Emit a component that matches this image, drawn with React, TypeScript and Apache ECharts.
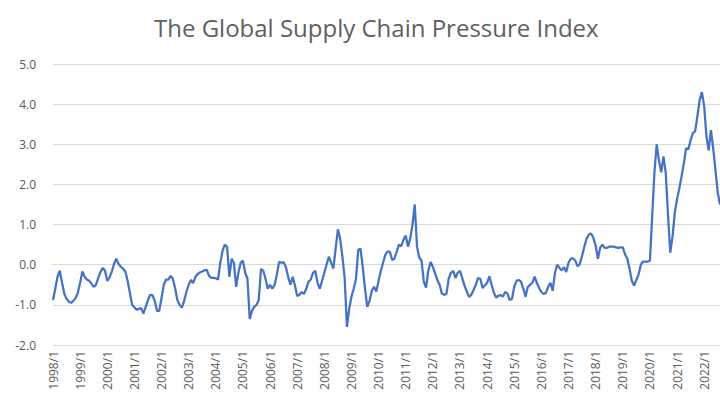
import React, { useEffect, useRef } from "react";
import * as echarts from "echarts";

const startYear = 1998;
const monthCount = 296;
const categories: string[] = Array.from({ length: monthCount }, (_, i) => `${startYear + Math.floor(i / 12)}/${(i % 12) + 1}`);

const values1998_2001: number[] = [
  -0.88, -0.6, -0.3, -0.15, -0.45, -0.72, -0.85, -0.92, -0.95, -0.9, -0.83, -0.7,
  -0.45, -0.17, -0.3, -0.37, -0.4, -0.47, -0.55, -0.5, -0.33, -0.18, -0.08, -0.15,
  -0.4, -0.32, -0.17, 0.02, 0.15, 0.02, -0.05, -0.1, -0.17, -0.4, -0.7, -1.0,
  -1.06, -1.12, -1.1, -1.08, -1.22, -1.05, -0.88, -0.75, -0.76, -0.9, -1.15, -1.15,
];
const values2002_2005: number[] = [
  -0.83, -0.5, -0.37, -0.37, -0.28, -0.35, -0.58, -0.88, -1.0, -1.07, -0.9, -0.68,
  -0.5, -0.38, -0.46, -0.3, -0.23, -0.19, -0.17, -0.14, -0.13, -0.28, -0.33, -0.33,
  -0.34, -0.37, 0.05, 0.35, 0.5, 0.44, -0.3, 0.15, 0.05, -0.55, -0.2, 0.05,
  0.1, -0.2, -0.35, -1.35, -1.15, -1.05, -1.0, -0.88, -0.1, -0.15, -0.35, -0.6,
];
const values2006_2009: number[] = [
  -0.5, -0.6, -0.5, -0.25, 0.07, 0.05, 0.06, -0.06, -0.3, -0.5, -0.3, -0.52,
  -0.78, -0.75, -0.68, -0.73, -0.6, -0.42, -0.37, -0.2, -0.15, -0.45, -0.6, -0.4,
  -0.2, 0.0, 0.2, 0.05, -0.1, 0.4, 0.88, 0.65, 0.2, -0.33, -1.55, -1.1,
  -0.8, -0.6, -0.35, 0.37, 0.4, -0.06, -0.6, -1.05, -0.9, -0.65, -0.55, -0.67,
];
const values2010_2013: number[] = [
  -0.4, -0.15, 0.05, 0.25, 0.33, 0.32, 0.12, 0.15, 0.32, 0.5, 0.46, 0.62,
  0.73, 0.45, 0.65, 1.0, 1.5, 0.45, 0.18, 0.1, -0.42, -0.57, -0.15, 0.07,
  -0.05, -0.22, -0.38, -0.5, -0.72, -0.75, -0.73, -0.35, -0.2, -0.15, -0.33, -0.2,
  -0.15, -0.33, -0.52, -0.66, -0.8, -0.75, -0.63, -0.5, -0.33, -0.35, -0.58, -0.52,
];
const values2014_2017: number[] = [
  -0.45, -0.29, -0.5, -0.7, -0.82, -0.77, -0.76, -0.79, -0.68, -0.72, -0.88, -0.85,
  -0.55, -0.4, -0.38, -0.42, -0.6, -0.8, -0.55, -0.5, -0.45, -0.3, -0.45, -0.58,
  -0.68, -0.73, -0.7, -0.55, -0.45, -0.65, -0.2, 0.0, -0.08, -0.14, -0.06, -0.18,
  0.05, 0.15, 0.16, 0.1, -0.04, 0.02, 0.22, 0.45, 0.65, 0.75, 0.78, 0.67,
];
const values2018_2022: number[] = [
  0.48, 0.15, 0.42, 0.5, 0.42, 0.42, 0.45, 0.45, 0.45, 0.43, 0.42, 0.43,
  0.43, 0.26, 0.15, -0.1, -0.4, -0.52, -0.38, -0.24, 0.0, 0.08, 0.08, 0.08,
  0.1, 1.2, 2.3, 3.0, 2.6, 2.3, 2.7, 2.29, 1.25, 0.3, 0.7, 1.3,
  1.63, 1.9, 2.2, 2.52, 2.9, 2.88, 3.1, 3.28, 3.32, 3.7, 4.1, 4.3,
  3.95, 3.2, 2.85, 3.35, 2.9, 2.35, 1.8, 1.5,
];
const gscpi: number[] = [
  ...values1998_2001, ...values2002_2005, ...values2006_2009,
  ...values2010_2013, ...values2014_2017, ...values2018_2022,
];

const yMin = -2;
const yMax = 5;
const yInterval = 1;
const titleText = "The Global Supply Chain Pressure Index";

export default function App() {
  const ref = useRef<HTMLDivElement>(null);
  useEffect(() => {
    if (!ref.current) return;
    const chart = echarts.init(ref.current, null, { renderer: "svg" });
    chart.setOption({
      animation: false,
      backgroundColor: "#ffffff",
      title: {
        text: titleText,
        left: 149,
        top: 10,
        textStyle: { fontFamily: "Open Sans", fontSize: 24, fontWeight: "normal", color: "#606060" },
      },
      grid: { left: 53, right: 0, top: 64, bottom: 61, containLabel: false },
      xAxis: {
        type: "category",
        data: categories,
        boundaryGap: false,
        axisLine: { show: true, lineStyle: { color: "#d9d9d9", width: 1 } },
        axisTick: { show: false },
        axisLabel: {
          interval: (idx: number) => idx % 12 === 0,
          rotate: 90,
          fontFamily: "Open Sans",
          fontSize: 12,
          color: "#595959",
          margin: 6,
        },
        splitLine: { show: false },
      },
      yAxis: {
        type: "value",
        min: yMin,
        max: yMax,
        interval: yInterval,
        axisLine: { show: false },
        axisTick: { show: false },
        axisLabel: {
          formatter: (v: number) => v.toFixed(1),
          fontFamily: "Open Sans",
          fontSize: 12,
          color: "#595959",
          margin: 17,
        },
        splitLine: { lineStyle: { color: "#d9d9d9", width: 1 } },
      },
      series: [
        {
          type: "line",
          data: gscpi,
          showSymbol: false,
          symbol: "none",
          lineStyle: { color: "#4472c4", width: 2.25 },
          itemStyle: { color: "#4472c4" },
        },
      ],
    });
    return () => chart.dispose();
  }, []);
  return <div ref={ref} style={{ position: "fixed", left: 0, top: 0, width: 720, height: 406 }} />;
}
